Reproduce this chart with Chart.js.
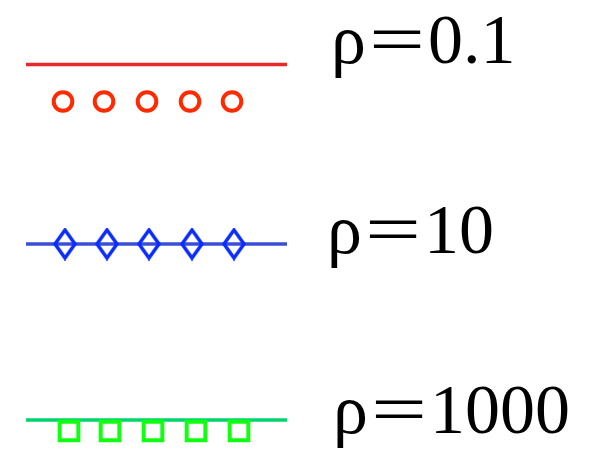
<!DOCTYPE html>
<html>
<head>
<meta charset="utf-8">
<script src="https://cdn.jsdelivr.net/npm/chart.js@4/dist/chart.umd.min.js"></script>
<style>
  html, body { margin: 0; padding: 0; background: #fff; }
  #wrap { width: 600px; height: 450px; position: relative; }
</style>
</head>
<body>
<div id="wrap"><canvas id="rhoChart"></canvas></div>
<script>
  // series names and their rho values
  const rhoValues = ['0.1', '10', '1000'];
  const lineColors = ['#e8282b', '#3b4fd6', '#00d46c'];
  const markerColors = ['#ff2a00', '#0a2cff', '#11ff11'];

  // line segments (plot units)
  const lineStartX = [26, 26, 26];
  const lineEndX = [287, 287, 287];
  const lineY = [64.5, 244, 420];

  // marker rows
  const circleX = [63, 104, 147, 190, 232];
  const circleY = [101.5, 101.5, 101.5, 101.5, 101.5];
  const diamondX = [65, 107, 149, 192, 234];
  const diamondY = [244, 244, 244, 244, 244];
  const squareX = [69, 110, 153, 196, 239];
  const squareY = [431, 431, 431, 431, 431];

  // label anchors
  const labelX = [331, 327, 333];
  const labelBaseline = [63, 253, 433];

  function toPoints(xs, ys) {
    return xs.map((x, i) => ({ x: x, y: ys[i] }));
  }

  // outlined diamond, taller than wide
  function diamondImage(color) {
    const c = document.createElement('canvas');
    c.width = 26; c.height = 33;
    const g = c.getContext('2d');
    g.strokeStyle = color;
    g.lineWidth = 3.5;
    g.lineJoin = 'miter';
    g.beginPath();
    g.moveTo(13, 2.5);
    g.lineTo(23, 16.5);
    g.lineTo(13, 30.5);
    g.lineTo(3, 16.5);
    g.closePath();
    g.stroke();
    return c;
  }

  const datasets = [
    {
      label: 'circles',
      data: toPoints(circleX, circleY),
      showLine: false,
      pointStyle: 'circle',
      pointRadius: 9.3,
      pointBorderWidth: 4,
      pointBorderColor: markerColors[0],
      pointBackgroundColor: 'rgba(0,0,0,0)',
      order: 1
    },
    {
      label: 'diamonds',
      data: toPoints(diamondX, diamondY),
      showLine: false,
      pointStyle: diamondImage(markerColors[1]),
      order: 1
    },
    {
      label: 'squares',
      data: toPoints(squareX, squareY),
      showLine: false,
      pointStyle: 'rect',
      pointRadius: 13.2,
      pointBorderWidth: 4,
      pointBorderColor: markerColors[2],
      pointBackgroundColor: 'rgba(0,0,0,0)',
      order: 1
    }
  ];

  rhoValues.forEach((v, i) => {
    datasets.push({
      label: 'ρ=' + v,
      data: [{ x: lineStartX[i], y: lineY[i] }, { x: lineEndX[i], y: lineY[i] }],
      showLine: true,
      borderColor: lineColors[i],
      borderWidth: 3.5,
      pointRadius: 0,
      order: 2
    });
  });

  // draws the "ρ=value" texts next to each row
  const rhoLabelPlugin = {
    id: 'rhoLabels',
    afterDatasetsDraw(chart) {
      const ctx = chart.ctx;
      const xs = chart.scales.x, ys = chart.scales.y;
      ctx.save();
      ctx.fillStyle = '#000';
      ctx.font = '70px "Liberation Serif", serif';
      ctx.textBaseline = 'alphabetic';
      ctx.textAlign = 'left';
      rhoValues.forEach((v, i) => {
        const x = xs.getPixelForValue(labelX[i]);
        const y = ys.getPixelForValue(labelBaseline[i]);
        ctx.fillText('ρ', x, y);
        // wide equals sign
        const eqW = ctx.measureText('=').width;
        ctx.save();
        ctx.translate(x + 38, y);
        ctx.scale(56 / eqW, 1);
        ctx.fillText('=', 0, 0);
        ctx.restore();
        ctx.fillText(v, x + 97, y);
      });
      ctx.restore();
    }
  };

  document.addEventListener('DOMContentLoaded', () => {
    const ctx = document.getElementById('rhoChart').getContext('2d');
    try {
      new Chart(ctx, {
        type: 'scatter',
        data: { datasets: datasets },
        options: {
          responsive: true,
          maintainAspectRatio: false,
          animation: false,
          events: [],
          layout: { padding: 0, autoPadding: false },
          plugins: {
            legend: { display: false },
            tooltip: { enabled: false }
          },
          scales: {
            x: { type: 'linear', min: 0, max: 600, display: false },
            y: { type: 'linear', min: 0, max: 450, reverse: true, display: false }
          }
        },
        plugins: [rhoLabelPlugin]
      });
    } catch (error) {
      console.error("Chart.js Error: ", error);
    }
  });
</script>
</body>
</html>
